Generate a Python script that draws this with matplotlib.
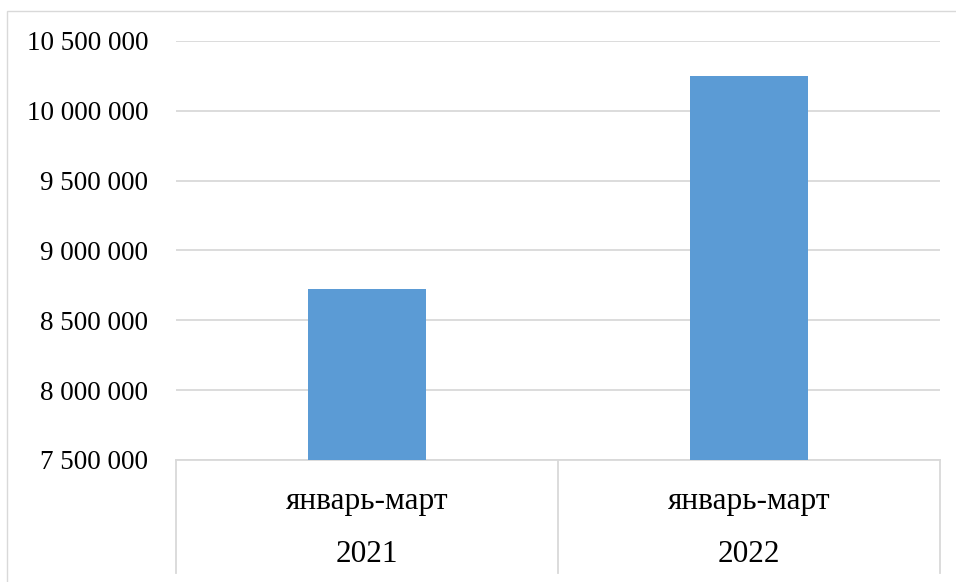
import matplotlib
matplotlib.use("Agg")
import matplotlib.pyplot as plt
from matplotlib.patches import Rectangle
from matplotlib.ticker import FuncFormatter

periods = ["январь-март", "январь-март"]
years = ["2021", "2022"]
values = [8724000, 10249000]
y_ticks = [7500000, 8000000, 8500000, 9000000, 9500000, 10000000, 10500000]

plt.rcParams['font.family'] = ['Liberation Serif', 'DejaVu Serif']

W, H = 956, 582
fig = plt.figure(figsize=(W / 100, H / 100), dpi=100)
ax = fig.add_axes([176 / W, 1 - 460 / H, (940 - 176) / W, (460 - 41) / H])

# outer chart border
fig.patches.append(Rectangle((7 / W, -0.05), 1.2, 1 - 11 / H + 0.05,
                             transform=fig.transFigure, fill=False,
                             edgecolor="#d9d9d9", linewidth=1.0, zorder=0))

x = list(range(len(values)))
ax.bar(x, values, width=0.31, color="#5b9bd5", zorder=3)

ax.set_xlim(-0.5, len(values) - 0.5)
ax.set_ylim(y_ticks[0], y_ticks[-1])
ax.set_yticks(y_ticks)
ax.yaxis.set_major_formatter(FuncFormatter(lambda v, p: f"{int(v):,}".replace(",", " ")))
ax.tick_params(axis="y", length=0, pad=20, labelsize=19.5, colors="black")
ax.set_xticks([])
ax.grid(axis="y", color="#d9d9d9", linewidth=1.3, zorder=0)
for s in ["top", "right", "left"]:
    ax.spines[s].set_visible(False)
ax.spines["bottom"].set_color("#d9d9d9")
ax.spines["bottom"].set_linewidth(1.3)

# multi-level category axis
trans = ax.get_xaxis_transform()
axes_h_px = 460 - 41
for b in [-0.5 + i for i in range(len(values) + 1)]:
    ax.plot([b, b], [0, -(573 - 460) / axes_h_px], transform=trans,
            color="#d9d9d9", linewidth=1.3, clip_on=False)
for xi, per, yr in zip(x, periods, years):
    ax.text(xi, -(502 - 460) / axes_h_px, per, transform=trans,
            ha="center", va="center", fontsize=22.5)
    ax.text(xi, -(554 - 460) / axes_h_px, yr, transform=trans,
            ha="center", va="center", fontsize=22.5)

fig.savefig("out.png", dpi=100)
